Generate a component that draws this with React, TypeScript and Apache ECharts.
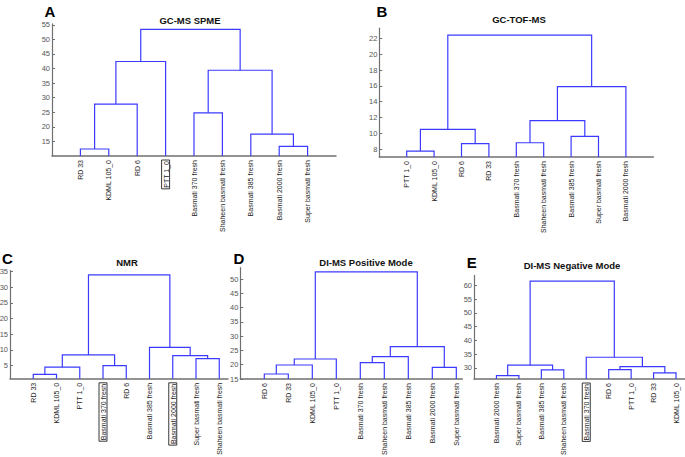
import React, { useEffect, useRef } from 'react';
import * as echarts from 'echarts';

// ---- Data (leaf orders, merges [childA, childB, height]; indices >= 9 refer to earlier merges) ----
const leavesA = ['RD 33', 'KDML 105_0', 'RD 6', 'PTT 1_0', 'Basmati 370 fresh', 'Shaheen basmati fresh', 'Basmati 385 fresh', 'Basmati 2000 fresh', 'Super basmati fresh'];
const mergesA: [number, number, number][] = [[0, 1, 12.4], [7, 8, 13.3], [6, 10, 17.5], [4, 5, 24.8], [9, 2, 27.8], [12, 11, 39.4], [13, 3, 42.4], [15, 14, 53.4]];
const boxedA = ['PTT 1_0'];

const leavesB = ['PTT 1_0', 'KDML 105_0', 'RD 6', 'RD 33', 'Basmati 370 fresh', 'Shaheen basmati fresh', 'Basmati 385 fresh', 'Super basmati fresh', 'Basmati 2000 fresh'];
const mergesB: [number, number, number][] = [[0, 1, 7.75], [2, 3, 8.7], [4, 5, 8.8], [6, 7, 9.6], [9, 10, 10.5], [11, 12, 11.6], [14, 8, 15.9], [13, 15, 22.4]];
const boxedB: string[] = [];

const leavesC = ['RD 33', 'KDML 105_0', 'PTT 1_0', 'Basmati 370 fresh', 'RD 6', 'Basmati 385 fresh', 'Basmati 2000 fresh', 'Super basmati fresh', 'Shaheen basmati fresh'];
const mergesC: [number, number, number][] = [[0, 1, 2.2], [9, 2, 4.5], [3, 4, 5.0], [7, 8, 7.2], [6, 12, 8.2], [10, 11, 8.4], [5, 13, 10.8], [14, 15, 33.9]];
const boxedC = ['Basmati 370 fresh', 'Basmati 2000 fresh'];

const leavesD = ['RD 6', 'RD 33', 'KDML 105_0', 'PTT 1_0', 'Basmati 370 fresh', 'Shaheen basmati fresh', 'Basmati 385 fresh', 'Basmati 2000 fresh', 'Super basmati fresh'];
const mergesD: [number, number, number][] = [[0, 1, 16.75], [7, 8, 19.1], [9, 2, 19.9], [4, 5, 20.7], [11, 3, 22.0], [12, 6, 22.8], [14, 10, 26.3], [13, 15, 52.5]];
const boxedD: string[] = [];

const leavesE = ['Basmati 2000 fresh', 'Super basmati fresh', 'Basmati 385 fresh', 'Shaheen basmati fresh', 'Basmati 370 fresh', 'RD 6', 'PTT 1_0', 'RD 33', 'KDML 105_0'];
const mergesE: [number, number, number][] = [[0, 1, 27.2], [7, 8, 28.2], [2, 3, 29.3], [5, 6, 29.4], [12, 10, 30.5], [9, 11, 31.0], [4, 13, 33.9], [14, 15, 61.5]];
const boxedE = ['Basmati 370 fresh'];

const titles = ['GC-MS SPME', 'GC-TOF-MS', 'NMR', 'DI-MS Positive Mode', 'DI-MS Negative Mode'];
const letters = ['A', 'B', 'C', 'D', 'E'];

// ---- Layout ----
const panels = [
  { leaves: leavesA, merges: mergesA, boxed: boxedA, grid: { left: 52, top: 23.9, width: 284, height: 132.1 }, y: { min: 10, max: 55.3, interval: 5 }, xMax: 10, title: [190, 20], letter: [50, 11] },
  { leaves: leavesB, merges: mergesB, boxed: boxedB, grid: { left: 379.3, top: 28.1, width: 274, height: 128.9 }, y: { min: 7, max: 23.3, splitNumber: 8 }, xMax: 10, title: [519, 19], letter: [382, 11] },
  { leaves: leavesC, merges: mergesC, boxed: boxedC, grid: { left: 10, top: 270.5, width: 218, height: 108.3 }, y: { min: 0.8, max: 35.3, splitNumber: 7 }, xMax: 9.376, title: [127, 262], letter: [7.5, 258] },
  { leaves: leavesD, merges: mergesD, boxed: boxedD, grid: { left: 240.3, top: 267.6, width: 222, height: 111.4 }, y: { min: 15, max: 54, interval: 5 }, xMax: 9.25, title: [366, 262], letter: [239, 258] },
  { leaves: leavesE, merges: mergesE, boxed: boxedE, grid: { left: 474, top: 275.4, width: 224.5, height: 103.6 }, y: { min: 26, max: 63.6, splitNumber: 8 }, xMax: 10, title: [572, 265], letter: [471.7, 262] },
];

const FONT = '"Liberation Sans", Arial, Helvetica, sans-serif';
const LINE_BLUE = '#3b3bff';

function buildPolylines(nLeaves: number, merges: [number, number, number][], yMin: number) {
  const xs: number[] = [];
  const ys: number[] = [];
  for (let i = 0; i < nLeaves; i++) { xs.push(i + 1); ys.push(yMin); }
  const out: { coords: number[][] }[] = [];
  merges.forEach(([a, b, h]) => {
    out.push({ coords: [[xs[a], ys[a]], [xs[a], h], [xs[b], h], [xs[b], ys[b]]] });
    xs.push((xs[a] + xs[b]) / 2);
    ys.push(h);
  });
  return out;
}

export default function App() {
  const ref = useRef<HTMLDivElement>(null);
  useEffect(() => {
    if (!ref.current) return;
    const chart = echarts.init(ref.current, undefined, { renderer: 'svg' });
    const grid: any[] = [];
    const xAxis: any[] = [];
    const yAxis: any[] = [];
    const series: any[] = [];
    const graphic: any[] = [];
    panels.forEach((p, i) => {
      grid.push({ ...p.grid, containLabel: false, outerBoundsMode: 'none' });
      xAxis.push({
        type: 'value', gridIndex: i, min: 0, max: p.xMax, interval: 1,
        axisLine: { show: true, lineStyle: { color: '#707070', width: 1.5 } },
        axisTick: { show: false },
        splitLine: { show: false },
        axisLabel: {
          rotate: 90, margin: 4, fontSize: 7, color: '#222', fontFamily: FONT,
          showMinLabel: false, showMaxLabel: false,
          formatter: (v: number) => {
            if (Math.abs(v - Math.round(v)) > 1e-6) return '';
            const k = Math.round(v);
            if (k < 1 || k > p.leaves.length) return '';
            const name = p.leaves[k - 1];
            return p.boxed.includes(name) ? `{box|${name}}` : name;
          },
          rich: { box: { borderColor: '#222', borderWidth: 0.9, padding: [1, 1, 0, 1], fontSize: 7, color: '#222', fontFamily: FONT } },
        },
      });
      const y: any = {
        type: 'value', gridIndex: i, min: p.y.min, max: p.y.max,
        axisLine: { show: true, lineStyle: { color: '#707070', width: 1.2 } },
        axisTick: { show: true, inside: true, length: 3, lineStyle: { color: '#707070' } },
        splitLine: { show: false },
        axisLabel: { fontSize: 7.5, color: '#555', margin: 2, fontFamily: FONT, showMaxLabel: false, showMinLabel: i === 3 },
      };
      if ((p.y as any).interval) y.interval = (p.y as any).interval;
      if ((p.y as any).splitNumber) y.splitNumber = (p.y as any).splitNumber;
      yAxis.push(y);
      series.push({
        type: 'lines', coordinateSystem: 'cartesian2d', xAxisIndex: i, yAxisIndex: i,
        polyline: true, silent: true,
        lineStyle: { color: LINE_BLUE, width: 1.2, opacity: 1 },
        data: buildPolylines(p.leaves.length, p.merges, p.y.min),
      });
      graphic.push({
        type: 'text', x: p.title[0], y: p.title[1],
        style: { text: titles[i], fontSize: 9.5, fontWeight: 'bold', fill: '#111', font: `bold 9.5px ${FONT}`, textAlign: 'center', textVerticalAlign: 'middle' },
      });
      graphic.push({
        type: 'text', x: p.letter[0], y: p.letter[1],
        style: { text: letters[i], fill: '#000', font: `bold 15px ${FONT}`, textAlign: 'center', textVerticalAlign: 'middle' },
      });
    });
    chart.setOption({
      animation: false,
      backgroundColor: '#fff',
      grid, xAxis, yAxis, series, graphic,
    });
    return () => chart.dispose();
  }, []);
  return <div ref={ref} style={{ position: 'fixed', left: 0, top: 0, width: 685, height: 457, background: '#fff' }} />;
}
